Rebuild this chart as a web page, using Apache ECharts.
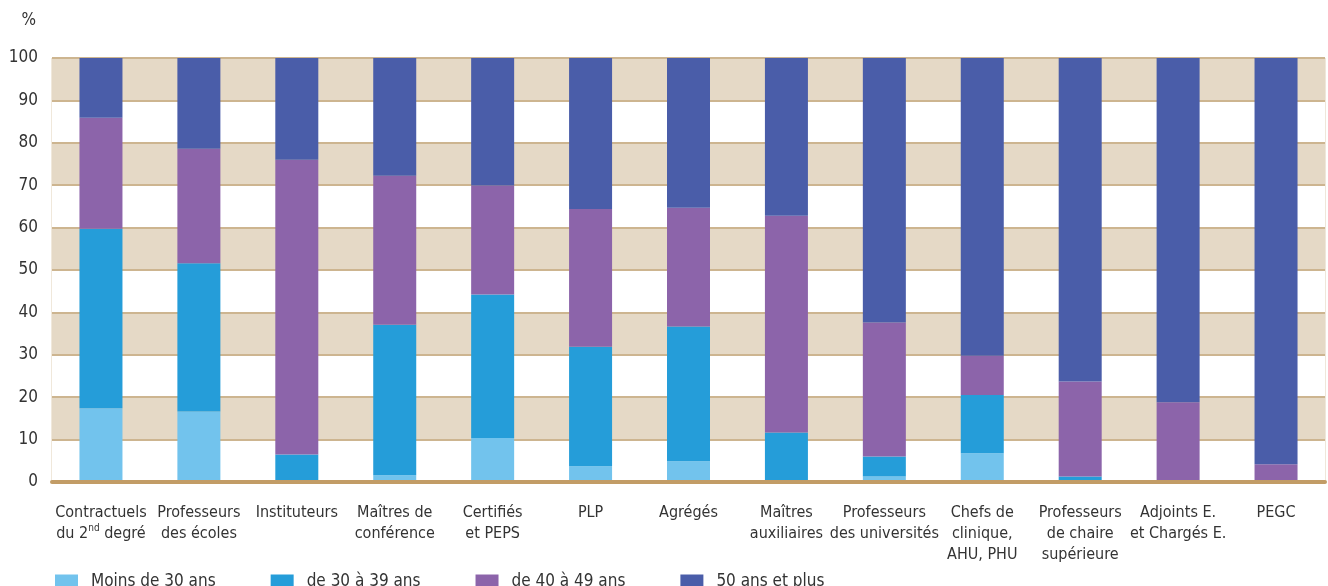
<!DOCTYPE html>
<html>
<head>
<meta charset="utf-8">
<script src="https://cdn.jsdelivr.net/npm/echarts@6/dist/echarts.min.js"></script>
<style>
  html, body { margin: 0; padding: 0; background: #fff; }
  #chart { width: 1328px; height: 586px; }
</style>
</head>
<body>
<div id="chart"></div>
<script>
// categories (x axis)
var categories = [
  'Contractuels\ndu 2nd degré',
  'Professeurs\ndes écoles',
  'Instituteurs',
  'Maîtres de\nconférence',
  'Certifiés\net PEPS',
  'PLP',
  'Agrégés',
  'Maîtres\nauxiliaires',
  'Professeurs\ndes universités',
  'Chefs de\nclinique,\nAHU, PHU',
  'Professeurs\nde chaire\nsupérieure',
  'Adjoints E.\net Chargés E.',
  'PEGC'
];

// age groups (%)
var moins30 = [17.4, 16.6, 0.2, 1.6, 10.4, 3.7, 4.9, 0.3, 1.3, 6.8, 0, 0, 0];
var de30a39 = [42.3, 35.0, 6.3, 35.5, 33.8, 28.2, 31.8, 11.4, 4.7, 13.7, 1.3, 0, 0];
var de40a49 = [26.2, 27.0, 69.5, 35.1, 25.7, 32.5, 28.0, 51.1, 31.6, 9.3, 22.4, 18.8, 4.2];
var plus50 = [14.1, 21.4, 24.0, 27.8, 30.1, 35.6, 35.3, 37.2, 62.4, 70.2, 76.3, 81.2, 95.8];

var seriesNames = ['Moins de 30 ans', 'de 30 à 39 ans', 'de 40 à 49 ans', '50 ans et plus'];
var seriesColors = ['#72c3ed', '#259dd9', '#8c64aa', '#4a5da9'];

var font = '"Liberation Sans Narrow", "DejaVu Sans Condensed", "Roboto", sans-serif';

var myChart = echarts.init(document.getElementById('chart'));

function makeBar(i, data) {
  return {
    name: seriesNames[i],
    type: 'bar',
    stack: 'age',
    barWidth: 43,
    itemStyle: { color: seriesColors[i] },
    data: data
  };
}

var option = {
  animation: false,
  textStyle: { fontFamily: font },
  grid: {
    left: 52,
    right: 3,
    top: 58,
    bottom: 104,
    show: true,
    borderColor: '#e0d0b6',
    borderWidth: 1,
    backgroundColor: 'transparent'
  },
  legend: {
    left: 55,
    top: 573,
    padding: 0,
    itemWidth: 23,
    itemHeight: 14,
    itemGap: 55,
    icon: 'rect',
    textStyle: { fontFamily: font, fontSize: 17, color: '#333', padding: [0, 0, 0, 8] },
    data: seriesNames
  },
  xAxis: {
    type: 'category',
    data: categories,
    z: 10,
    axisLine: { lineStyle: { color: '#c29c66', width: 4 } },
    axisTick: { show: false },
    axisLabel: {
      interval: 0,
      margin: 20,
      color: '#333',
      fontFamily: font,
      fontSize: 16,
      lineHeight: 21,
      formatter: function (v) {
        return v.replace('2nd', '2{sup|nd}');
      },
      rich: {
        sup: { fontSize: 10, fontFamily: font, color: '#333', verticalAlign: 'top', lineHeight: 21, padding: [0, 0, 6, 0] }
      }
    }
  },
  yAxis: {
    type: 'value',
    min: 0,
    max: 100,
    interval: 10,
    name: '%',
    nameGap: 29,
    nameTextStyle: { fontFamily: font, fontSize: 17, color: '#333', align: 'right', padding: [0, 16, 0, 0] },
    axisLine: { show: false },
    axisTick: { show: false },
    axisLabel: { color: '#333', fontFamily: font, fontSize: 17, margin: 14 },
    splitLine: { show: true, lineStyle: { color: '#cdb590', width: 2 } },
    splitArea: { show: true, areaStyle: { color: ['#ffffff', '#e5d9c6'] } }
  },
  series: [
    makeBar(0, moins30),
    makeBar(1, de30a39),
    makeBar(2, de40a49),
    makeBar(3, plus50)
  ]
};

myChart.setOption(option);
</script>
</body>
</html>
